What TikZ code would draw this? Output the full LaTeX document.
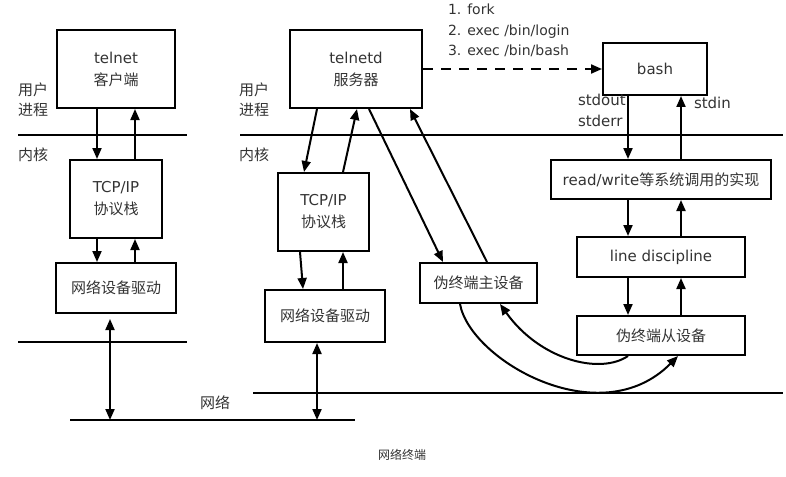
\documentclass[tikz,border=0pt]{standalone}
\usepackage{fontspec}
\setmainfont{DejaVu Sans}
\newfontfamily\cjk{Noto Sans CJK SC}
\usetikzlibrary{arrows.meta}

\begin{document}
\begin{tikzpicture}[x=1pt, y=-1pt, >={Triangle[length=11pt, width=9pt]}, line width=2pt,
  box node/.style={rectangle, draw, inner sep=0pt, align=center, text=black!80, font=\fontsize{15}{22}\selectfont},
  side node/.style={inner sep=0pt, align=left, text=black!80, font=\fontsize{15}{20}\selectfont\cjk},
  note node/.style={inner sep=0pt, align=left, text=black!80, font=\fontsize{14}{20.5}\selectfont}]

	\useasboundingbox (0,0) rectangle (786,476);

	% client side
	\node[box node, minimum width=118pt, minimum height=78pt] (client) at (116,69) {telnet\\{\cjk 客户端}};
	\node[box node, minimum width=92pt, minimum height=78pt] (tcpl) at (116,199) {TCP/IP\\{\cjk 协议栈}};
	\node[box node, minimum width=120pt, minimum height=50pt] (drvl) at (116,288) {\cjk 网络设备驱动};

	% server side
	\node[box node, minimum width=132pt, minimum height=78pt] (telnetd) at (356,69) {telnetd\\{\cjk 服务器}};
	\node[box node, minimum width=91pt, minimum height=78pt] (tcpm) at (323.5,212) {TCP/IP\\{\cjk 协议栈}};
	\node[box node, minimum width=120pt, minimum height=52pt] (drvm) at (325,316) {\cjk 网络设备驱动};
	\node[box node, minimum width=117pt, minimum height=40pt] (master) at (478.5,283) {\cjk 伪终端主设备};

	% shell side
	\node[box node, minimum width=104pt, minimum height=52pt] (bash) at (655,69) {bash};
	\node[box node, minimum width=220pt, minimum height=39pt] (rw) at (661,179.5) {read/write{\cjk 等系统调用的实现}};
	\node[box node, minimum width=168pt, minimum height=40pt] (ld) at (661,257) {line discipline};
	\node[box node, minimum width=168pt, minimum height=39pt] (slave) at (661,335.5) {\cjk 伪终端从设备};

	% labels
	\node[side node] (userl) at (33,100) {用户\\进程};
	\node[side node] (kernl) at (33,155) {内核};
	\node[side node] (userm) at (254,100) {用户\\进程};
	\node[side node] (kernm) at (254,155) {内核};
	\node[side node] (netlabel) at (215,403) {网络};
	\node[note node, anchor=north west] (steps) at (447,3) {1. fork\\2. exec /bin/login\\3. exec /bin/bash};
	\node[note node, anchor=north west, font=\fontsize{15}{21}\selectfont] (outlabel) at (577,93) {stdout\\stderr};
	\node[note node, anchor=west, font=\fontsize{15}{21}\selectfont] (inlabel) at (693,103) {stdin};
	\node[side node, font=\fontsize{12}{14}\selectfont\cjk] (caption) at (402,455) {网络终端};

	% boundaries
	\coordinate (ul1) at (18,135);   \coordinate (ul2) at (187,135);
	\coordinate (ur1) at (240,135);  \coordinate (ur2) at (783,135);
	\coordinate (ll1) at (18,342);   \coordinate (ll2) at (187,342);
	\coordinate (nb1) at (70,420);   \coordinate (nb2) at (355,420);
	\coordinate (nr1) at (253,393);  \coordinate (nr2) at (783,393);
	\draw (ul1) -- (ul2);
	\draw (ur1) -- (ur2);
	\draw (ll1) -- (ll2);
	\draw (nb1) -- (nb2);
	\draw (nr1) -- (nr2);

	% client stack
	\draw[->] ([xshift=-19pt]client.south) -- ([xshift=-19pt]tcpl.north);
	\draw[->] ([xshift=19pt]tcpl.north) -- ([xshift=19pt]client.south);
	\draw[->] ([xshift=-19pt]tcpl.south) -- ([xshift=-19pt]drvl.north);
	\draw[->] ([xshift=19pt]drvl.north) -- ([xshift=19pt]tcpl.south);
	\coordinate (netl) at (110,420);
	\draw[<->] ([xshift=-6pt, yshift=-5pt]drvl.south) -- (netl);

	% server stack
	\draw[->] ([xshift=-39pt]telnetd.south) -- ([xshift=-19.5pt]tcpm.north);
	\draw[->] ([xshift=19.5pt]tcpm.north) -- ([xshift=1pt]telnetd.south);
	\draw[->] ([xshift=-23.5pt]tcpm.south) -- ([xshift=-22pt]drvm.north);
	\draw[->] ([xshift=18pt]drvm.north) -- ([xshift=18pt]drvm.north |- tcpm.south);
	\coordinate (netm) at (317,420);
	\draw[<->] ([xshift=-8pt]drvm.south) -- (netm);
	\draw[->] ([xshift=13pt]telnetd.south) -- ([xshift=-35.5pt]master.north);
	\draw[->] ([xshift=8.5pt]master.north) -- ([xshift=54pt]telnetd.south);

	% fork and exec
	\draw[->, dash pattern=on 10pt off 8pt] (telnetd.east) -- (bash.west);

	% shell stack
	\draw[->] ([xshift=-27pt]bash.south) -- ([xshift=-33pt]rw.north);
	\draw[->] ([xshift=20pt]rw.north) -- ([xshift=26pt]bash.south);
	\draw[->] ([xshift=-33pt]rw.south) -- ([xshift=-33pt]ld.north);
	\draw[->] ([xshift=20pt]ld.north) -- ([xshift=20pt]rw.south);
	\draw[->] ([xshift=-33pt]ld.south) -- ([xshift=-33pt]slave.north);
	\draw[->] ([xshift=20pt]slave.north) -- ([xshift=20pt]ld.south);

	% pty master-slave
	\draw[->] ([xshift=-18.5pt]master.south) .. controls (470,360) and (600,435) .. ([xshift=17pt]slave.south);
	\draw[->] ([xshift=-33pt]slave.south) .. controls (600,375) and (540,360) .. ([xshift=21.5pt]master.south);

\end{tikzpicture}
\end{document}
